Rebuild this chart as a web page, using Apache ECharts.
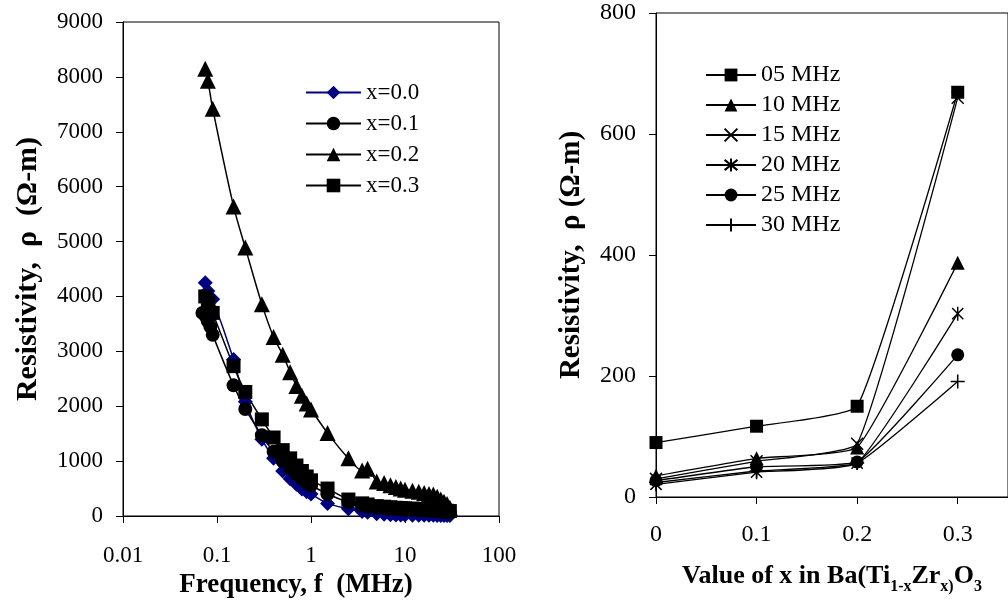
<!DOCTYPE html>
<html><head><meta charset="utf-8">
<script src="https://cdn.jsdelivr.net/npm/echarts@6/dist/echarts.min.js"></script>
<style>html,body{margin:0;padding:0;background:#fff}#c{width:1008px;height:612px}</style>
</head><body><div id="c"></div>
<script>
// Left chart: frequency (MHz)
const freq = [0.075,0.08,0.09,0.15,0.2,0.3,0.4,0.5,0.6,0.7,0.8,0.9,1,1.5,2.5,3.5,4,5,6,7,8,9,10,12,14,16,18,20,22,24,26,28,30];
const freqX01 = [0.07,0.075,0.08,0.085,0.09,0.15,0.2,0.3,0.4,0.5,0.6,0.7,0.8,0.9,1,1.5,2.5,3.5,4,5,6,7,8,9,10,12,14,16,18,20,22,24,26,28,30];
const rhoX00 = [4250,4100,3950,2850,2080,1400,1050,820,680,580,490,440,400,230,130,80,70,40,30,25,20,18,16,15,14,13,12,12,11,11,10,10,10];
const rhoX01 = [3700,3650,3550,3450,3300,2380,1950,1470,1170,1000,870,760,680,600,560,400,250,190,170,150,140,130,125,120,115,110,105,100,95,90,85,80,75,70,65];
const rhoX02 = [8150,7930,7420,5640,4890,3860,3260,2940,2620,2370,2190,2050,1940,1510,1050,830,860,630,600,560,530,500,480,460,440,420,400,390,350,300,260,220,150];
const rhoX03 = [4000,3900,3700,2730,2260,1760,1430,1200,1050,920,820,720,650,500,300,230,210,180,170,160,150,145,140,135,130,125,120,115,110,105,100,95,90];
const leftNames = ['x=0.0','x=0.1','x=0.2','x=0.3'];
const freqTicks = ['0.01','0.1','1','10','100'];

// Right chart: composition x
const compX = [0, 0.1, 0.2, 0.3];
const rho05 = [90,117,150,669];
const rho10 = [35,64,82,387];
const rho15 = [30,59,88,660];
const rho20 = [21,41,56,303];
const rho25 = [27,50,58,235];
const rho30 = [24,43,56,191];
const rightNames = ['05 MHz','10 MHz','15 MHz','20 MHz','25 MHz','30 MHz'];

const FONT = "'Liberation Serif','Times New Roman',serif";
const pair = (xs, ys) => xs.map((x, i) => [x, ys[i]]);

const SYM_X = 'path://M0,0L10,10M10,0L0,10';
const SYM_AST = 'path://M5,0L5,10M1,1L9,9M9,1L1,9';
const SYM_PLUS = 'path://M5,0L5,10M0,5L10,5';

function leftSeries(name, xs, ys, symbol, color, size) {
  return {
    name, type: 'line', xAxisIndex: 0, yAxisIndex: 0,
    data: pair(xs, ys), smooth: 0.3, symbol, symbolSize: size,
    lineStyle: {color, width: 1.5}, itemStyle: {color}, z: 3
  };
}
function rightSeries(name, ys, symbol, size, stroke) {
  const s = {
    name, type: 'line', xAxisIndex: 1, yAxisIndex: 1,
    data: pair(compX, ys), smooth: 0.12, symbol, symbolSize: size,
    symbolKeepAspect: true,
    lineStyle: {color: '#000', width: 1.3},
    itemStyle: {color: '#000'}
  };
  if (stroke) s.itemStyle = {color: '#000', borderColor: '#000', borderWidth: 1.5};
  return s;
}

const chart = echarts.init(document.getElementById('c'));
const axisCommon = {
  axisLine: {show: true, lineStyle: {color: '#000', width: 1}},
  axisTick: {show: true, inside: false, length: 7, lineStyle: {color: '#000'}},
  splitLine: {show: false}
};
chart.setOption({
  animation: false,
  backgroundColor: '#fff',
  textStyle: {fontFamily: FONT, color: '#000'},
  grid: [
    {left: 123, top: 22, width: 376, height: 494, show: true, borderColor: '#000', borderWidth: 1},
    {left: 656, top: 13, right: 0, height: 484, show: true, borderColor: '#000', borderWidth: 1}
  ],
  legend: [
    {data: leftNames, orient: 'vertical', left: 300, top: 76, itemWidth: 55, itemHeight: 17, itemGap: 8,
     textStyle: {fontFamily: FONT, fontSize: 23, color: '#000', lineHeight: 22}},
    {data: rightNames, orient: 'vertical', left: 700, top: 58, itemWidth: 50, itemHeight: 16, itemGap: 6,
     textStyle: {fontFamily: FONT, fontSize: 24, color: '#000', lineHeight: 22}}
  ],
  xAxis: [
    Object.assign({}, axisCommon, {
      gridIndex: 0, type: 'log', logBase: 10, min: 0.01, max: 100,
      axisLabel: {fontFamily: FONT, fontSize: 23, color: '#000', margin: 28,
        formatter: v => freqTicks[Math.round(Math.log10(v)) + 2]},
      name: 'Frequency, f  (MHz)', nameLocation: 'middle', nameGap: 56,
      nameTextStyle: {fontFamily: FONT, fontSize: 27, fontWeight: 'bold', color: '#000', padding: [0, 30, 0, 0]}
    }),
    Object.assign({}, axisCommon, {
      gridIndex: 1, type: 'value', min: 0, max: 0.35, interval: 0.1,
      axisLabel: {fontFamily: FONT, fontSize: 24, color: '#000', margin: 26, showMaxLabel: false,
        formatter: v => (Math.abs(v - 0.35) < 1e-9 ? '' : String(+v.toFixed(1)))},
      name: '{b|Value of x in Ba(Ti}{s|1-x}{b|Zr}{s|x)}{b|O}{s|3}', nameLocation: 'middle', nameGap: 62,
      nameTextStyle: {fontFamily: FONT, color: '#000',
        rich: {
          b: {fontFamily: FONT, fontSize: 26, fontWeight: 'bold', color: '#000', lineHeight: 30, verticalAlign: 'bottom'},
          s: {fontFamily: FONT, fontSize: 16, fontWeight: 'bold', color: '#000', lineHeight: 30, verticalAlign: 'bottom', padding: [0, 0, -6, 0]}
        }}
    })
  ],
  yAxis: [
    Object.assign({}, axisCommon, {
      gridIndex: 0, type: 'value', min: 0, max: 9000, interval: 1000,
      axisLabel: {fontFamily: FONT, fontSize: 23, color: '#000', margin: 20, formatter: v => String(v)},
      name: 'Resistivity,  ρ  (Ω-m)', nameLocation: 'middle', nameGap: 80,
      nameTextStyle: {fontFamily: FONT, fontSize: 30, fontWeight: 'bold', color: '#000'}
    }),
    Object.assign({}, axisCommon, {
      gridIndex: 1, type: 'value', min: 0, max: 800, interval: 200,
      axisLabel: {fontFamily: FONT, fontSize: 24, color: '#000', margin: 20, formatter: v => String(v)},
      name: 'Resistivity,  ρ (Ω-m)', nameLocation: 'middle', nameGap: 70,
      nameTextStyle: {fontFamily: FONT, fontSize: 29, fontWeight: 'bold', color: '#000'}
    })
  ],
  series: [
    leftSeries(leftNames[0], freq, rhoX00, 'diamond', '#000080', 15),
    leftSeries(leftNames[1], freqX01, rhoX01, 'circle', '#000', 14),
    leftSeries(leftNames[2], freq, rhoX02, 'triangle', '#000', 16),
    leftSeries(leftNames[3], freq, rhoX03, 'rect', '#000', 14),
    rightSeries(rightNames[0], rho05, 'rect', 13),
    rightSeries(rightNames[1], rho10, 'triangle', 14),
    rightSeries(rightNames[2], rho15, SYM_X, 12, true),
    rightSeries(rightNames[3], rho20, SYM_AST, 14, true),
    rightSeries(rightNames[4], rho25, 'circle', 13),
    rightSeries(rightNames[5], rho30, SYM_PLUS, 14, true)
  ]
});
</script></body></html>
